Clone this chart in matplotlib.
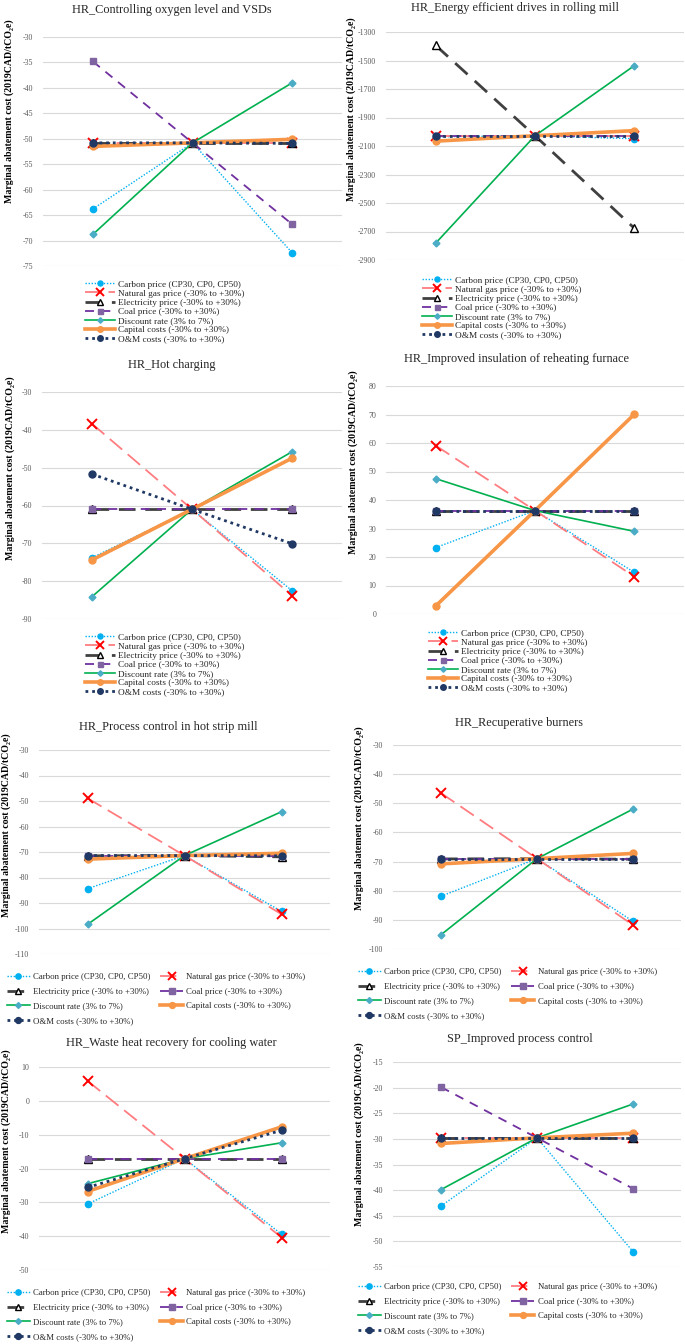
import matplotlib
matplotlib.use("Agg")
import matplotlib.pyplot as plt

W, H = 685, 1344

series_labels = ["Carbon price (CP30, CP0, CP50)",
                 "Natural gas price (-30% to +30%)",
                 "Electricity price (-30% to +30%)",
                 "Coal price (-30% to +30%)",
                 "Discount rate (3% to 7%)",
                 "Capital costs (-30% to +30%)",
                 "O&M costs (-30% to +30%)"]

# low / base / high case for each series, same order as series_labels
oxygen_vsd = [[-63.8, -50.8, -72.4], [-50.8, -50.8, -50.8], [-50.8, -50.8, -50.8],
              [-34.8, -50.8, -66.8], [-68.8, -50.8, -39.0], [-51.5, -50.8, -50.1],
              [-50.8, -50.8, -50.9]]
rolling_drives = [[-2035, -2028, -2049], [-2028, -2028, -2028], [-1394, -2028, -2677],
                  [-2028, -2028, -2028], [-2782, -2028, -1536], [-2066, -2028, -1992],
                  [-2028, -2028, -2028]]
hot_charging = [[-73.8, -61.0, -82.5], [-38.4, -61.0, -83.8], [-61.0, -61.0, -61.0],
                [-61.0, -61.0, -61.0], [-84.1, -61.0, -45.8], [-74.4, -61.0, -47.5],
                [-51.7, -61.0, -70.1]]
furnace_insulation = [[23.3, 36.3, 14.6], [59.1, 36.3, 13.1], [36.3, 36.3, 36.3],
                      [36.3, 36.3, 36.3], [47.5, 36.3, 29.0], [2.8, 36.3, 70.1],
                      [36.3, 36.3, 36.3]]
strip_mill = [[-84.4, -71.4, -93.3], [-48.9, -71.4, -94.4], [-71.5, -71.4, -71.9],
              [-71.4, -71.4, -71.4], [-98.4, -71.4, -54.2], [-72.8, -71.4, -70.5],
              [-71.4, -71.4, -71.5]]
recup_burners = [[-81.9, -69.0, -90.5], [-46.5, -69.0, -91.8], [-69.1, -69.0, -69.2],
                 [-69.0, -69.0, -69.0], [-95.1, -69.0, -52.0], [-70.8, -69.0, -67.2],
                 [-69.0, -69.0, -69.0]]
cooling_water = [[-30.5, -17.1, -39.4], [5.9, -17.1, -40.4], [-17.1, -17.1, -17.1],
                 [-17.1, -17.1, -17.1], [-24.5, -17.1, -12.4], [-26.8, -17.1, -7.7],
                 [-25.6, -17.1, -8.7]]
sp_process = [[-43.1, -29.8, -52.0], [-29.8, -29.8, -29.8], [-29.8, -29.8, -29.8],
              [-19.9, -29.8, -39.7], [-39.9, -29.8, -23.2], [-30.9, -29.8, -28.9],
              [-29.8, -29.8, -29.8]]

styles = [
    dict(color="#00B0F0", lw=1.0, ls=(0, (1, 1.2)), marker="o", ms=4.5, mfc="#00B0F0", mec="#00B0F0"),
    dict(color="#FF7C80", lw=1.3, ls=(0, (9, 4)), marker="x", ms=7, mfc="red", mec="red", mew=1.4),
    dict(color="#404040", lw=2.0, ls=(0, (6, 3.5)), marker="^", ms=5.5, mfc="white", mec="black", mew=1.0),
    dict(color="#7030A0", lw=1.3, ls=(0, (5, 4)), marker="s", ms=4.5, mfc="#8064A2", mec="#8064A2"),
    dict(color="#00B050", lw=1.2, ls="-", marker="D", ms=3.5, mfc="#4BACC6", mec="#4BACC6"),
    dict(color="#F79646", lw=2.6, ls="-", marker="o", ms=5, mfc="#F79646", mec="#F79646"),
    dict(color="#203864", lw=2.0, ls=(0, (1, 1.4)), marker="o", ms=5, mfc="#203864", mec="#203864"),
]

serif = ["Liberation Serif", "DejaVu Serif"]
plt.rcParams["font.family"] = serif


def rect(x0, y0, x1, y1):
    # pixel box -> figure fraction
    return [x0 / W, 1 - y1 / H, (x1 - x0) / W, (y1 - y0) / H]


def draw_panel(fig, box, title, title_xy, ylab_xy, data, ylim, step, leg_xy, two_col):
    ax = fig.add_axes(rect(*box))
    xs = [1, 2, 3]
    handles = []
    for vals, st, lab in zip(data, styles, series_labels):
        h, = ax.plot(xs, vals, label=lab, linestyle=st["ls"], color=st["color"], lw=st["lw"],
                     marker=st["marker"], ms=st["ms"], mfc=st["mfc"], mec=st["mec"],
                     mew=st.get("mew", 1.0), clip_on=False)
        handles.append(h)
    ax.set_xlim(0.5, 3.5)
    ax.set_ylim(*ylim)
    ticks = []
    t = ylim[0]
    while t <= ylim[1] + 1e-9:
        ticks.append(t)
        t += step
    ax.set_yticks(ticks)
    ax.set_yticklabels([str(int(v)) for v in ticks])
    ax.set_xticks([])
    ax.grid(axis="y", color="#D9D9D9", lw=0.8)
    ax.set_axisbelow(True)
    for s in ax.spines.values():
        s.set_visible(False)
    ax.tick_params(axis="y", length=0, pad=7, labelsize=5.7, labelcolor="#595959")

    fig.text(title_xy[0] / W, 1 - title_xy[1] / H, title, ha="center", va="center",
             fontsize=8.8, color="#262626")
    fig.text(ylab_xy[0] / W, 1 - ylab_xy[1] / H, "Marginal abatement cost (2019CAD/tCO\u2082e)",
             rotation=90, ha="center", va="center", fontsize=7.1, fontweight="bold", color="black")

    if two_col:
        order = [0, 2, 4, 6, 1, 3, 5]
        leg = fig.legend([handles[i] for i in order], [series_labels[i] for i in order],
                         loc="upper left", bbox_to_anchor=(leg_xy[0] / W, 1 - leg_xy[1] / H),
                         ncol=2, frameon=False, fontsize=6.3, borderpad=0, borderaxespad=0,
                         handlelength=2.6, handletextpad=0.4, labelspacing=0.75, columnspacing=1.1,
                         markerscale=0.85)
    else:
        leg = fig.legend(handles, series_labels, loc="upper left",
                         bbox_to_anchor=(leg_xy[0] / W, 1 - leg_xy[1] / H),
                         ncol=1, frameon=False, fontsize=6.7, borderpad=0, borderaxespad=0,
                         handlelength=3.2, handletextpad=0.3, labelspacing=0.07, markerscale=0.8)
    for txt in leg.get_texts():
        txt.set_color("#262626")
    return ax


fig = plt.figure(figsize=(W / 100, H / 100), dpi=100)

draw_panel(fig, (43, 37, 342, 266), "HR_Controlling oxygen level and VSDs", (172, 10), (9, 111),
           oxygen_vsd, (-75, -30), 5, (85, 280), False)
draw_panel(fig, (386, 32, 684, 260), "HR_Energy efficient drives in rolling mill", (515, 8), (351, 109),
           rolling_drives, (-2900, -1300), 200, (422, 276), False)
draw_panel(fig, (42, 392, 342, 619), "HR_Hot charging", (172, 365), (10, 468),
           hot_charging, (-90, -30), 10, (85, 633), False)
draw_panel(fig, (386, 386, 684, 614), "HR_Improved insulation of reheating furnace", (516, 359), (353, 462),
           furnace_insulation, (0, 80), 10, (428, 629), False)
draw_panel(fig, (39, 750, 330, 954), "HR_Process control in hot strip mill", (168, 727), (6, 825),
           strip_mill, (-110, -30), 10, (7, 973), True)
draw_panel(fig, (393, 745, 681, 949), "HR_Recuperative burners", (519, 723), (359, 818),
           recup_burners, (-100, -30), 10, (358, 968), True)
draw_panel(fig, (39, 1067, 330, 1270), "HR_Waste heat recovery for cooling water", (171, 1043), (6, 1141),
           cooling_water, (-50, 10), 10, (7, 1289), True)
draw_panel(fig, (393, 1062, 681, 1267), "SP_Improved process control", (520, 1039), (359, 1134),
           sp_process, (-55, -15), 5, (358, 1283), True)

fig.savefig("out.png", dpi=100)
